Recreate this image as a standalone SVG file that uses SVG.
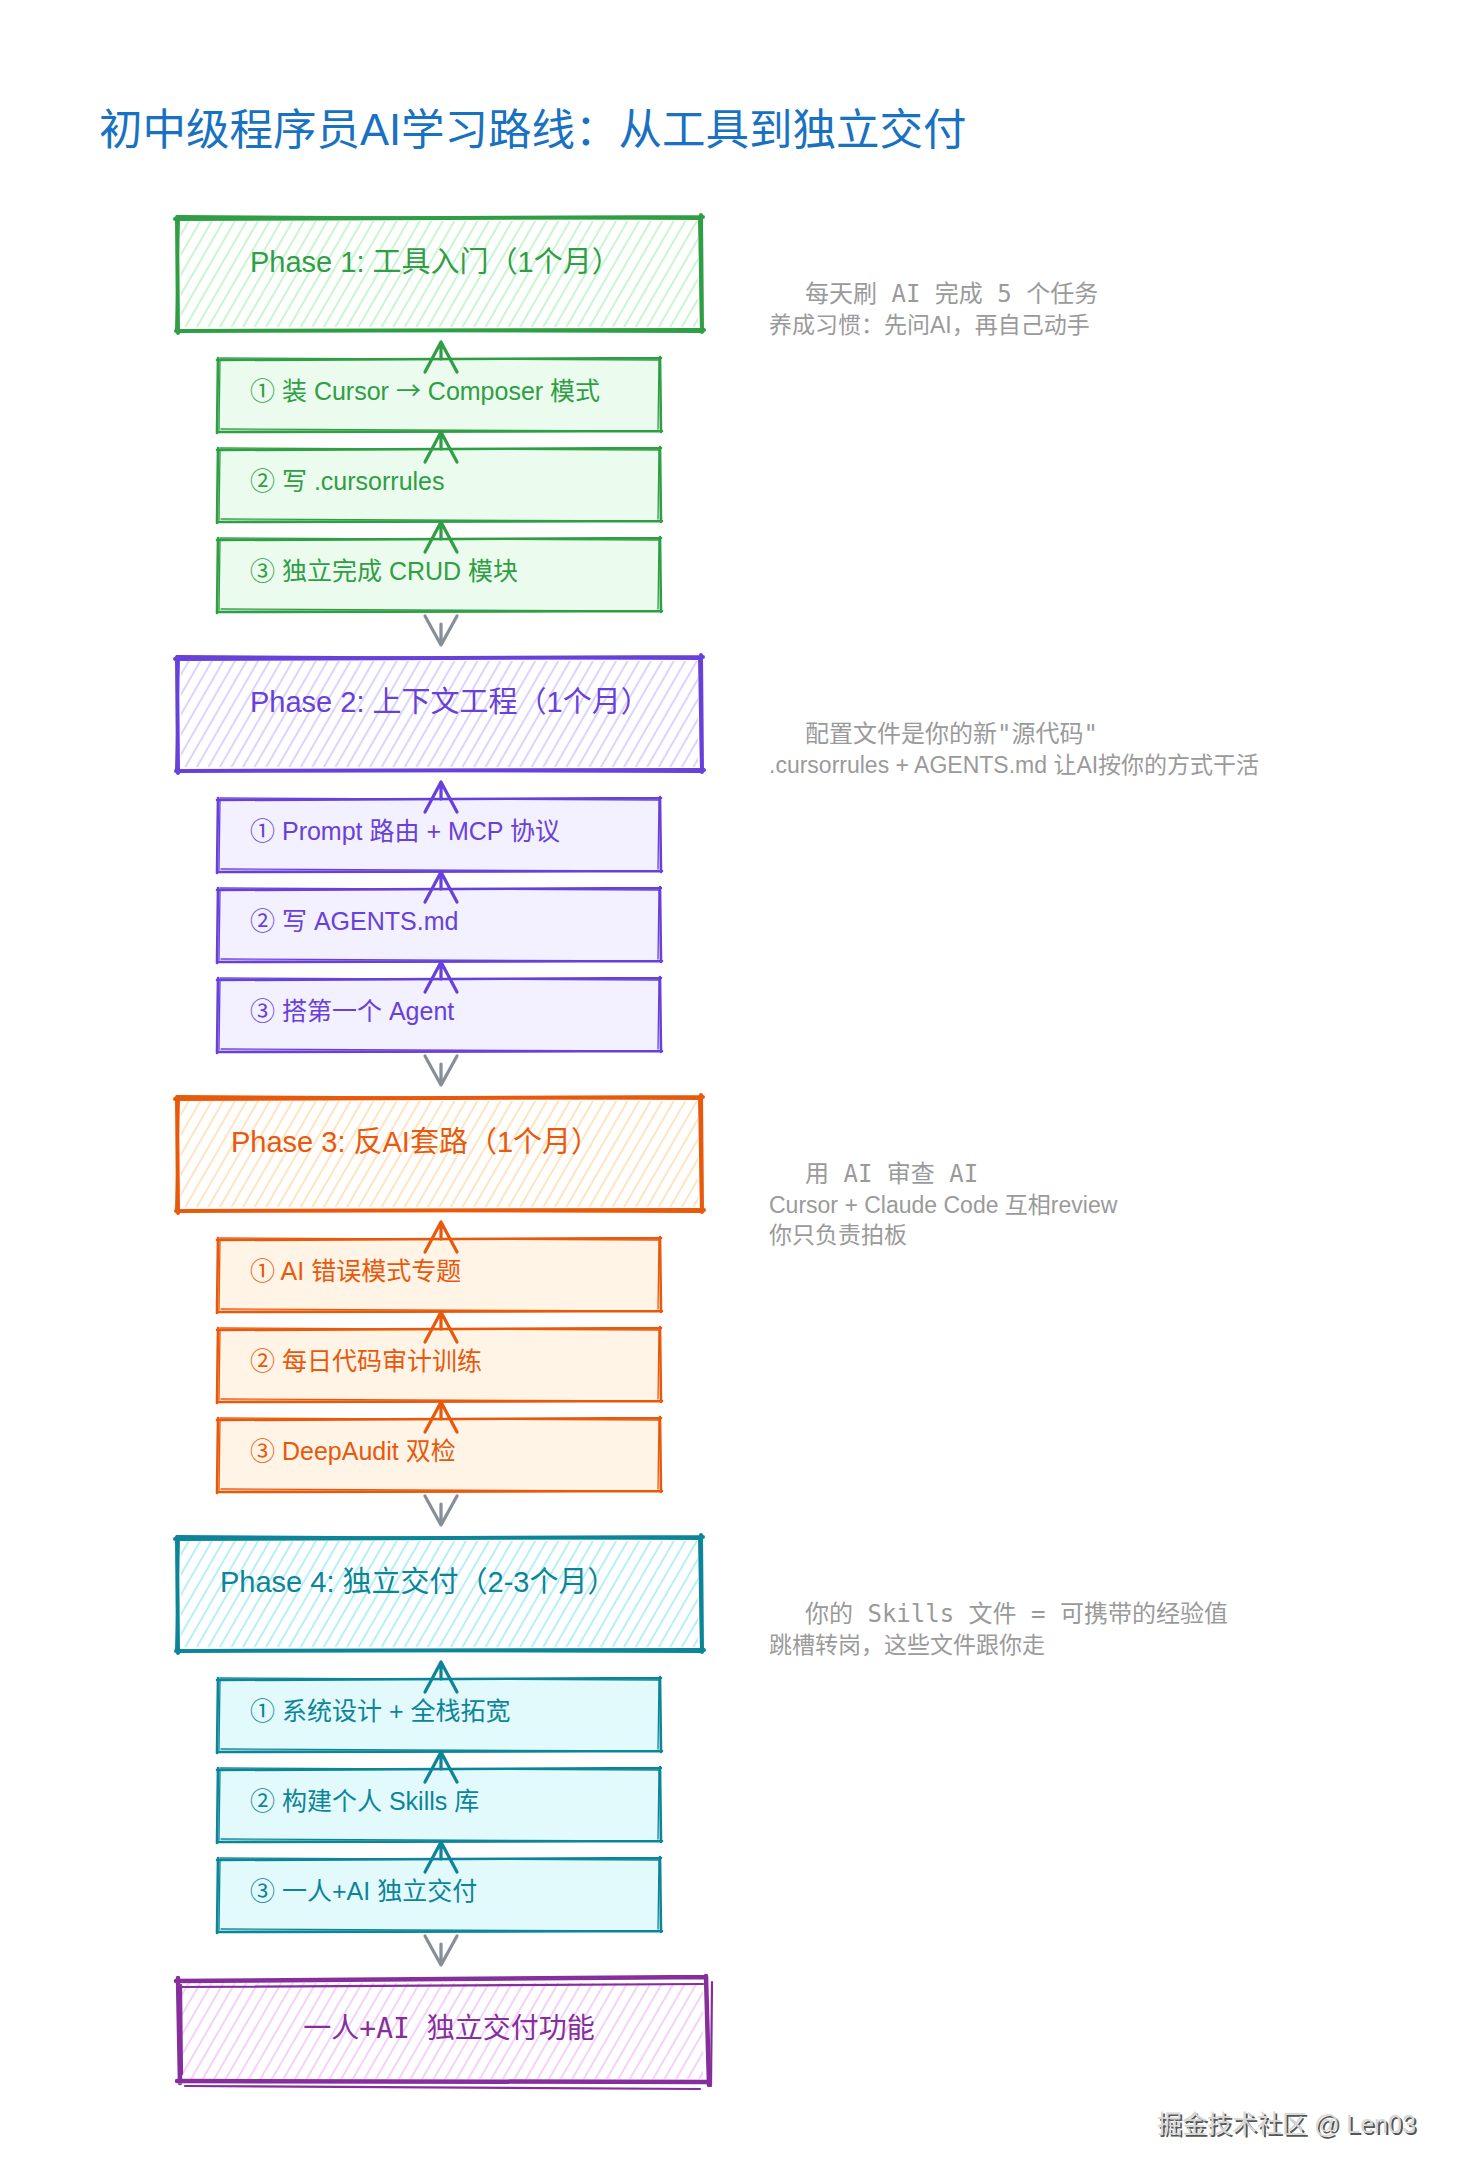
<svg xmlns="http://www.w3.org/2000/svg" xmlns:xlink="http://www.w3.org/1999/xlink" width="1460" height="2180" viewBox="0 0 1460 2180">
<style>
.sans{font-family:"Liberation Sans","Noto Sans CJK SC",sans-serif}
.cjk{font-family:"Noto Sans CJK SC",sans-serif}
.mono{font-family:"DejaVu Sans Mono","Noto Sans CJK SC",monospace}
.pt{font-size:29px}
.st{font-size:25px}
.note{fill:#9a9a9a;font-size:23px}
.nm{fill:#9a9a9a;font-size:24px}
.o{fill:none;stroke-linecap:round;stroke-linejoin:round}
.ow{stroke-width:4}
.ow2{stroke-width:2}
.sw{stroke-width:2.6}
.sw2{stroke-width:1.3}
.arr{fill:none;stroke-width:3.2;stroke-linecap:round;stroke-linejoin:round}
.g{stroke:#2f9e44}.gt{fill:#2f9e44}
.v{stroke:#6741d9}.vt{fill:#6741d9}
.r{stroke:#e8590c}.rt{fill:#e8590c}
.c{stroke:#0c8599}.ct{fill:#0c8599}
.p{stroke:#862e9c}.ptx{fill:#862e9c}
.gr{stroke:#868e96}
</style>
<defs>
<pattern id="hG" width="10" height="10" patternUnits="userSpaceOnUse" patternTransform="rotate(30)"><line x1="5" y1="-1" x2="5" y2="11" stroke="#b2f2bb" stroke-width="1.4"/></pattern>
<pattern id="hV" width="10" height="10" patternUnits="userSpaceOnUse" patternTransform="rotate(30)"><line x1="5" y1="-1" x2="5" y2="11" stroke="#d0bfff" stroke-width="1.4"/></pattern>
<pattern id="hR" width="10" height="10" patternUnits="userSpaceOnUse" patternTransform="rotate(30)"><line x1="5" y1="-1" x2="5" y2="11" stroke="#ffd8a8" stroke-width="1.4"/></pattern>
<pattern id="hC" width="10" height="10" patternUnits="userSpaceOnUse" patternTransform="rotate(30)"><line x1="5" y1="-1" x2="5" y2="11" stroke="#99e9f2" stroke-width="1.4"/></pattern>
<pattern id="hP" width="10" height="10" patternUnits="userSpaceOnUse" patternTransform="rotate(30)"><line x1="5" y1="-1" x2="5" y2="11" stroke="#eebefa" stroke-width="1.4"/></pattern>
<path id="phO" d="M175,1 L703,-1 M701,-3 L702,114 M704,112 L176,113 M178,115 L177,-1"/>
<path id="phO2" d="M177,-2 L700,1 M699,0 L701,111 M700,114 L180,112 M176,112 L179,1"/>
<path id="subO" d="M217,1 L661,-1 M660,-2 L661,73 M662,72 L218,73 M217,74 L218,-1"/>
<path id="subO2" d="M220,-1 L658,1 M659,0 L658,70 M657,72 L221,70 M219,71 L220,2"/>
<path id="up" d="M441,-17 L441,0 M425,13 L441,-17 L457,13"/>
<path id="dn" d="M441,-34 L441,-13 M425,-42 L441,-13 L457,-42"/>
</defs>
<rect width="1460" height="2180" fill="#ffffff"/>
<text x="99" y="145" class="sans" font-size="43.5" fill="#1971c2">初中级程序员AI学习路线<tspan class="cjk">：</tspan>从工具到独立交付</text>

<!-- Phase 1 -->
<g id="phase1" transform="translate(0,218)">
<rect x="181" y="3" width="517" height="106" fill="url(#hG)"/>
<use href="#phO" class="o ow g"/><use href="#phO2" class="o ow2 g"/>
<text x="250" y="54" class="sans pt gt">Phase 1: 工具入门（1个月）</text>
</g>
<g id="p1s1" transform="translate(0,359)"><rect x="218" y="0" width="442" height="72" fill="#ebfbee"/><use href="#subO" class="o sw g"/><use href="#subO2" class="o sw2 g"/><text x="250" y="41" class="sans st gt"><tspan class="cjk">①</tspan> 装 Cursor <tspan class="cjk">→</tspan> Composer 模式</text></g>
<g id="p1s2" transform="translate(0,449)"><rect x="218" y="0" width="442" height="72" fill="#ebfbee"/><use href="#subO" class="o sw g"/><use href="#subO2" class="o sw2 g"/><text x="250" y="41" class="sans st gt"><tspan class="cjk">②</tspan> 写 .cursorrules</text></g>
<g id="p1s3" transform="translate(0,539)"><rect x="218" y="0" width="442" height="72" fill="#ebfbee"/><use href="#subO" class="o sw g"/><use href="#subO2" class="o sw2 g"/><text x="250" y="41" class="sans st gt"><tspan class="cjk">③</tspan> 独立完成 CRUD 模块</text></g>

<!-- Phase 2 -->
<g id="phase2" transform="translate(0,658)">
<rect x="181" y="3" width="517" height="106" fill="url(#hV)"/>
<use href="#phO" class="o ow v"/><use href="#phO2" class="o ow2 v"/>
<text x="250" y="54" class="sans pt vt">Phase 2: 上下文工程（1个月）</text>
</g>
<g id="p2s1" transform="translate(0,799)"><rect x="218" y="0" width="442" height="72" fill="#f3f0ff"/><use href="#subO" class="o sw v"/><use href="#subO2" class="o sw2 v"/><text x="250" y="41" class="sans st vt"><tspan class="cjk">①</tspan> Prompt 路由 + MCP 协议</text></g>
<g id="p2s2" transform="translate(0,889)"><rect x="218" y="0" width="442" height="72" fill="#f3f0ff"/><use href="#subO" class="o sw v"/><use href="#subO2" class="o sw2 v"/><text x="250" y="41" class="sans st vt"><tspan class="cjk">②</tspan> 写 AGENTS.md</text></g>
<g id="p2s3" transform="translate(0,979)"><rect x="218" y="0" width="442" height="72" fill="#f3f0ff"/><use href="#subO" class="o sw v"/><use href="#subO2" class="o sw2 v"/><text x="250" y="41" class="sans st vt"><tspan class="cjk">③</tspan> 搭第一个 Agent</text></g>

<!-- Phase 3 -->
<g id="phase3" transform="translate(0,1098)">
<rect x="181" y="3" width="517" height="106" fill="url(#hR)"/>
<use href="#phO" class="o ow r"/><use href="#phO2" class="o ow2 r"/>
<text x="231" y="54" class="sans pt rt">Phase 3: 反AI套路（1个月）</text>
</g>
<g id="p3s1" transform="translate(0,1239)"><rect x="218" y="0" width="442" height="72" fill="#fff4e6"/><use href="#subO" class="o sw r"/><use href="#subO2" class="o sw2 r"/><text x="250" y="41" class="sans st rt"><tspan class="cjk">①</tspan> AI 错误模式专题</text></g>
<g id="p3s2" transform="translate(0,1329)"><rect x="218" y="0" width="442" height="72" fill="#fff4e6"/><use href="#subO" class="o sw r"/><use href="#subO2" class="o sw2 r"/><text x="250" y="41" class="sans st rt"><tspan class="cjk">②</tspan> 每日代码审计训练</text></g>
<g id="p3s3" transform="translate(0,1419)"><rect x="218" y="0" width="442" height="72" fill="#fff4e6"/><use href="#subO" class="o sw r"/><use href="#subO2" class="o sw2 r"/><text x="250" y="41" class="sans st rt"><tspan class="cjk">③</tspan> DeepAudit 双检</text></g>

<!-- Phase 4 -->
<g id="phase4" transform="translate(0,1538)">
<rect x="181" y="3" width="517" height="106" fill="url(#hC)"/>
<use href="#phO" class="o ow c"/><use href="#phO2" class="o ow2 c"/>
<text x="220" y="54" class="sans pt ct">Phase 4: 独立交付（2-3个月）</text>
</g>
<g id="p4s1" transform="translate(0,1679)"><rect x="218" y="0" width="442" height="72" fill="#e3fafc"/><use href="#subO" class="o sw c"/><use href="#subO2" class="o sw2 c"/><text x="250" y="41" class="sans st ct"><tspan class="cjk">①</tspan> 系统设计 + 全栈拓宽</text></g>
<g id="p4s2" transform="translate(0,1769)"><rect x="218" y="0" width="442" height="72" fill="#e3fafc"/><use href="#subO" class="o sw c"/><use href="#subO2" class="o sw2 c"/><text x="250" y="41" class="sans st ct"><tspan class="cjk">②</tspan> 构建个人 Skills 库</text></g>
<g id="p4s3" transform="translate(0,1859)"><rect x="218" y="0" width="442" height="72" fill="#e3fafc"/><use href="#subO" class="o sw c"/><use href="#subO2" class="o sw2 c"/><text x="250" y="41" class="sans st ct"><tspan class="cjk">③</tspan> 一人+AI 独立交付</text></g>

<!-- Final -->
<g id="final">
<rect x="182" y="1983" width="521" height="96" fill="url(#hP)"/>
<path class="o p" stroke-width="4.5" d="M176,1981 L705,1977 M706,1976 L709,2085 M707,2082 L177,2081 M180,2083 L178,1978"/>
<path class="o p" stroke-width="2.2" d="M179,1987 L703,1984 M712,1982 L711,2086 M700,2089 L185,2086 M182,2074 L181,1985"/>
<text x="449" y="2038" text-anchor="middle" class="mono ptx" font-size="28">一人+AI 独立交付功能</text>
</g>

<!-- Notes -->
<g id="note1">
<text x="805" y="302" class="mono nm">每天刷 AI 完成 5 个任务</text>
<text x="769" y="333" class="sans note">养成习惯<tspan class="cjk">：</tspan>先问AI<tspan class="cjk">，</tspan>再自己动手</text>
</g>
<g id="note2">
<text x="805" y="742" class="mono nm">配置文件是你的新"源代码"</text>
<text x="769" y="773" class="sans note">.cursorrules + AGENTS.md 让AI按你的方式干活</text>
</g>
<g id="note3">
<text x="805" y="1182" class="mono nm">用 AI 审查 AI</text>
<text x="769" y="1213" class="sans note">Cursor + Claude Code 互相review</text>
<text x="769" y="1243" class="sans note">你只负责拍板</text>
</g>
<g id="note4">
<text x="805" y="1622" class="mono nm">你的 Skills 文件 = 可携带的经验值</text>
<text x="769" y="1653" class="sans note">跳槽转岗<tspan class="cjk">，</tspan>这些文件跟你走</text>
</g>

<!-- Connectors -->
<g id="connectors">
<use href="#up" y="359" class="arr g"/>
<use href="#up" y="449" class="arr g"/>
<use href="#up" y="539" class="arr g"/>
<use href="#dn" y="658" class="arr gr"/>
<use href="#up" y="799" class="arr v"/>
<use href="#up" y="889" class="arr v"/>
<use href="#up" y="979" class="arr v"/>
<use href="#dn" y="1098" class="arr gr"/>
<use href="#up" y="1239" class="arr r"/>
<use href="#up" y="1329" class="arr r"/>
<use href="#up" y="1419" class="arr r"/>
<use href="#dn" y="1538" class="arr gr"/>
<use href="#up" y="1679" class="arr c"/>
<use href="#up" y="1769" class="arr c"/>
<use href="#up" y="1859" class="arr c"/>
<use href="#dn" y="1978" class="arr gr"/>
</g>

<g id="watermark">
<text x="1159" y="2135" class="sans" font-size="25" fill="#555">掘金技术社区 @ Len03</text>
<text x="1157" y="2133" class="sans" font-size="25" fill="#d6d6d6">掘金技术社区 @ Len03</text>
</g>
</svg>
